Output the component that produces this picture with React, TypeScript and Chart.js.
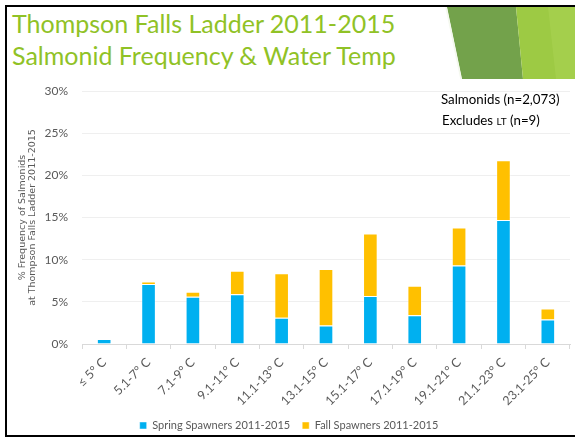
import React, { useEffect, useRef } from "react";
import { Chart, registerables } from "chart.js";

Chart.register(...registerables);

const categories = [
  "≤ 5° C",
  "5.1-7° C",
  "7.1-9° C",
  "9.1-11° C",
  "11.1-13° C",
  "13.1-15° C",
  "15.1-17° C",
  "17.1-19° C",
  "19.1-21° C",
  "21.1-23° C",
  "23.1-25° C",
];
const springSpawners = [0.6, 7.1, 5.6, 5.9, 3.1, 2.2, 5.7, 3.4, 9.3, 14.7, 2.9];
const fallSpawners = [0, 0.3, 0.6, 2.8, 5.3, 6.7, 7.4, 3.5, 4.5, 7.1, 1.3];
const yTickValues = [0, 5, 10, 15, 20, 25, 30];
const seriesNames = ["Spring Spawners 2011-2015", "Fall Spawners 2011-2015"];
const yAxisTitle = ["% Frequency of Salmonids", "at Thompson Falls Ladder 2011-2015"];
const titleLines = ["Thompson Falls Ladder 2011-2015", "Salmonid Frequency & Water Temp"];

const FONT = "Lato, 'Open Sans', sans-serif";
const GREY = "#595959";

export default function App() {
  const canvasRef = useRef<HTMLCanvasElement | null>(null);

  useEffect(() => {
    const canvas = canvasRef.current;
    if (!canvas) return;
    const chart = new Chart(canvas, {
      type: "bar",
      data: {
        labels: categories,
        datasets: [
          {
            label: seriesNames[0],
            data: springSpawners,
            backgroundColor: "#00B0F0",
            borderColor: "rgba(255,255,255,0.45)",
            borderWidth: 1,
            barPercentage: 0.33,
            categoryPercentage: 1,
          },
          {
            label: seriesNames[1],
            data: fallSpawners,
            backgroundColor: "#FFC000",
            borderColor: "rgba(255,255,255,0.45)",
            borderWidth: 1,
            barPercentage: 0.33,
            categoryPercentage: 1,
          },
        ],
      },
      options: {
        responsive: false,
        animation: false,
        layout: { padding: { left: 8, right: 5, top: 11, bottom: 0 } },
        plugins: {
          legend: {
            position: "bottom",
            labels: {
              boxWidth: 7,
              boxHeight: 7,
              padding: 12,
              color: GREY,
              font: { family: FONT, size: 11 },
            },
          },
          tooltip: { enabled: false },
        },
        scales: {
          x: {
            stacked: true,
            grid: {
              display: true,
              drawOnChartArea: false,
              drawTicks: true,
              tickLength: 5,
              color: "#d9d9d9",
              offset: true,
            },
            border: { display: true, color: "#d9d9d9" },
            ticks: {
              minRotation: 45,
              maxRotation: 45,
              autoSkip: false,
              padding: 6,
              color: GREY,
              font: { family: FONT, size: 12.5 },
            },
            afterFit: (s: any) => {
              s.height = 64;
            },
          },
          y: {
            stacked: true,
            min: 0,
            max: 30,
            grid: { color: "#efefef", drawTicks: false },
            border: { display: false },
            ticks: {
              padding: 14,
              color: GREY,
              font: { family: FONT, size: 12 },
              callback: (v: any) => v + "%",
            },
            afterBuildTicks: (s: any) => {
              s.ticks = yTickValues.map((v) => ({ value: v }));
            },
            title: {
              display: true,
              text: yAxisTitle,
              color: GREY,
              font: { family: "'DejaVu Sans', sans-serif", size: 9.5, lineHeight: 1.0 },
              padding: { top: 10.25, bottom: 0 },
            },
            afterFit: (s: any) => {
              s.width = 74;
              s.paddingTop = 0;
              s.paddingBottom = 0;
            },
          },
        },
      },
    });
    return () => chart.destroy();
  }, []);

  return (
    <div
      style={{
        position: "fixed",
        left: 0,
        top: 0,
        width: 575,
        height: 437,
        background: "#fff",
        overflow: "hidden",
      }}
    >
      <svg
        width={575}
        height={437}
        style={{ position: "absolute", left: 0, top: 0 }}
      >
        <polygon points="447,7 516,7 523,79 462,79" fill="#73A24B" />
        <polygon points="516,7 575,7 575,79 523,79" fill="#9DCA44" />
        <polygon points="548,7 575,7 575,79 556,79" fill="#A6CF4F" opacity={0.8} />
        <line x1="446" y1="7" x2="461" y2="79" stroke="#f4f8ee" strokeWidth={1.5} />
      </svg>
      <div
        style={{
          position: "absolute",
          left: 5,
          top: 5,
          width: 620,
          height: 428,
          borderTop: "2px solid #000",
          borderLeft: "2px solid #000",
          borderBottom: "2px solid #000",
        }}
      />
      {titleLines.map((t, i) => (
        <div
          key={i}
          style={{
            position: "absolute",
            left: 12,
            top: 11 + i * 32,
            fontFamily: FONT,
            fontSize: 25,
            lineHeight: "25px",
            color: "#90C226",
            whiteSpace: "nowrap",
          }}
        >
          {t}
        </div>
      ))}
      <canvas
        ref={canvasRef}
        width={575}
        height={361}
        style={{ position: "absolute", left: 0, top: 80, width: 575, height: 361 }}
      />
      <div
        style={{
          position: "absolute",
          left: 441,
          top: 92,
          fontFamily: FONT,
          fontSize: 13.3,
          lineHeight: "14px",
          color: "#000",
          whiteSpace: "nowrap",
        }}
      >
        Salmonids (n=2,073)
      </div>
      <div
        style={{
          position: "absolute",
          left: 442,
          top: 113,
          fontFamily: FONT,
          fontSize: 13.3,
          lineHeight: "14px",
          color: "#000",
          whiteSpace: "nowrap",
        }}
      >
        Excludes <span style={{ fontSize: 10 }}>LT</span> (n=9)
      </div>
    </div>
  );
}
